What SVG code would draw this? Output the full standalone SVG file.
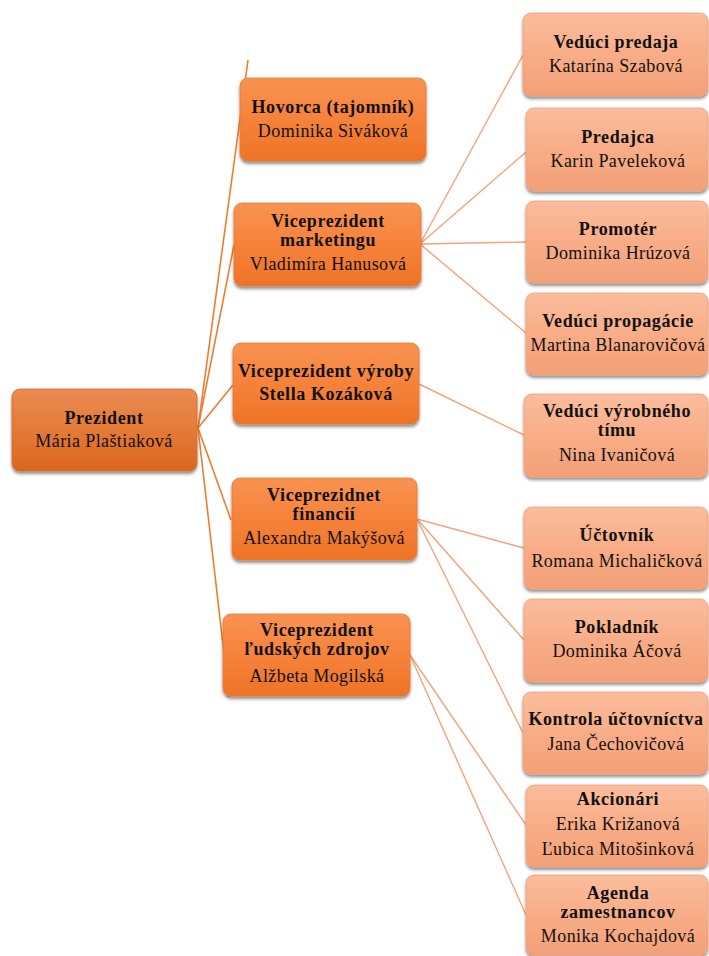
<svg xmlns="http://www.w3.org/2000/svg" width="709" height="956" viewBox="0 0 709 956">
<defs>
<linearGradient id="gP" x1="0" y1="0" x2="0" y2="1"><stop offset="0" stop-color="#EA8C52"/><stop offset="0.5" stop-color="#E47A37"/><stop offset="1" stop-color="#DA6621"/></linearGradient>
<linearGradient id="gM" x1="0" y1="0" x2="0" y2="1"><stop offset="0" stop-color="#F99352"/><stop offset="0.5" stop-color="#F6823A"/><stop offset="1" stop-color="#EE7326"/></linearGradient>
<linearGradient id="gR" x1="0" y1="0" x2="0" y2="1"><stop offset="0" stop-color="#FBBD9D"/><stop offset="0.5" stop-color="#F8AD87"/><stop offset="1" stop-color="#F3A077"/></linearGradient>
<filter id="sh" x="-10%" y="-10%" width="120%" height="130%"><feDropShadow dx="0" dy="2.5" stdDeviation="1.6" flood-color="#000" flood-opacity="0.45"/></filter>
</defs>
<style>
.p{fill:url(#gP);stroke:#D46A2A;stroke-width:0.8;filter:url(#sh)}
.m{fill:url(#gM);stroke:#E87A35;stroke-width:0.8;filter:url(#sh)}
.r{fill:url(#gR);stroke:#EDA07C;stroke-width:0.8;filter:url(#sh)}
text{font-family:"Liberation Serif","Times New Roman",serif;font-size:18px;letter-spacing:0.4px;fill:#111;text-anchor:middle}
.b{font-weight:bold;letter-spacing:0.6px}
.c1{stroke:#ED7D31;stroke-width:1.6;fill:none}
.c2{stroke:#F4A27A;stroke-width:1.4;fill:none}
</style>
<g id="connectors">
<line class="c1" x1="198" y1="428" x2="248" y2="60"/>
<line class="c1" x1="198" y1="428" x2="234" y2="245"/>
<line class="c1" x1="198" y1="428" x2="233" y2="385"/>
<line class="c1" x1="198" y1="428" x2="231" y2="520"/>
<line class="c1" x1="198" y1="428" x2="229" y2="697"/>
<line class="c2" x1="420" y1="244" x2="523" y2="55"/>
<line class="c2" x1="420" y1="244" x2="526" y2="152"/>
<line class="c2" x1="420" y1="244" x2="526" y2="242"/>
<line class="c2" x1="420" y1="244" x2="526" y2="333"/>
<line class="c2" x1="419" y1="384" x2="524" y2="435"/>
<line class="c2" x1="417" y1="519" x2="524" y2="548"/>
<line class="c2" x1="417" y1="519" x2="524" y2="640"/>
<line class="c2" x1="417" y1="519" x2="523" y2="733"/>
<line class="c2" x1="410" y1="655" x2="526" y2="825"/>
<line class="c2" x1="410" y1="655" x2="526" y2="915"/>
</g>
<g id="n-prezident"><rect class="p" x="12" y="389" width="185" height="82" rx="8"/><text class="b" x="104" y="424">Prezident</text><text x="104" y="447">Mária Plaštiaková</text></g>
<g id="n-hovorca"><rect class="m" x="240" y="78" width="186" height="83" rx="8"/><text class="b" x="333" y="113">Hovorca (tajomník)</text><text x="333" y="137">Dominika Siváková</text></g>
<g id="n-vp-marketing"><rect class="m" x="234" y="203" width="187" height="83" rx="8"/><text class="b" x="328" y="227">Viceprezident</text><text class="b" x="328" y="246">marketingu</text><text x="328" y="270">Vladimíra Hanusová</text></g>
<g id="n-vp-vyroby"><rect class="m" x="233" y="343" width="186" height="81" rx="8"/><text class="b" x="326" y="377">Viceprezident výroby</text><text class="b" x="326" y="400">Stella Kozáková</text></g>
<g id="n-vp-financii"><rect class="m" x="232" y="478" width="185" height="82" rx="8"/><text class="b" x="324" y="501">Viceprezidnet</text><text class="b" x="324" y="520">financií</text><text x="324" y="544">Alexandra Makýšová</text></g>
<g id="n-vp-ludskych"><rect class="m" x="223" y="614" width="187" height="82" rx="8"/><text class="b" x="317" y="636">Viceprezident</text><text class="b" x="317" y="655">ľudských zdrojov</text><text x="317" y="682">Alžbeta Mogilská</text></g>
<g id="n-veduci-predaja"><rect class="r" x="523" y="13" width="185" height="83" rx="8"/><text class="b" x="616" y="48">Vedúci predaja</text><text x="616" y="72">Katarína Szabová</text></g>
<g id="n-predajca"><rect class="r" x="526" y="108" width="182" height="83" rx="8"/><text class="b" x="618" y="143">Predajca</text><text x="618" y="167">Karin Paveleková</text></g>
<g id="n-promoter"><rect class="r" x="526" y="201" width="182" height="82" rx="8"/><text class="b" x="618" y="235">Promotér</text><text x="618" y="259">Dominika Hrúzová</text></g>
<g id="n-veduci-propagacie"><rect class="r" x="526" y="293" width="182" height="82" rx="8"/><text class="b" x="618" y="327">Vedúci propagácie</text><text x="618" y="351">Martina Blanarovičová</text></g>
<g id="n-veduci-vyrobneho"><rect class="r" x="524" y="394" width="184" height="83" rx="8"/><text class="b" x="617" y="417">Vedúci výrobného</text><text class="b" x="617" y="436">tímu</text><text x="617" y="461">Nina Ivaničová</text></g>
<g id="n-uctovnik"><rect class="r" x="524" y="507" width="184" height="82" rx="8"/><text class="b" x="617" y="541">Účtovník</text><text x="617" y="567">Romana Michaličková</text></g>
<g id="n-pokladnik"><rect class="r" x="524" y="599" width="184" height="83" rx="8"/><text class="b" x="617" y="633">Pokladník</text><text x="617" y="657">Dominika Áčová</text></g>
<g id="n-kontrola"><rect class="r" x="523" y="692" width="185" height="82" rx="8"/><text class="b" x="616" y="725">Kontrola účtovníctva</text><text x="616" y="750">Jana Čechovičová</text></g>
<g id="n-akcionari"><rect class="r" x="526" y="785" width="182" height="82" rx="8"/><text class="b" x="618" y="805">Akcionári</text><text x="618" y="830">Erika Križanová</text><text x="618" y="855">Ľubica Mitošinková</text></g>
<g id="n-agenda"><rect class="r" x="526" y="875" width="182" height="80" rx="8"/><text class="b" x="618" y="899">Agenda</text><text class="b" x="618" y="918">zamestnancov</text><text x="618" y="942">Monika Kochajdová</text></g>
</svg>
